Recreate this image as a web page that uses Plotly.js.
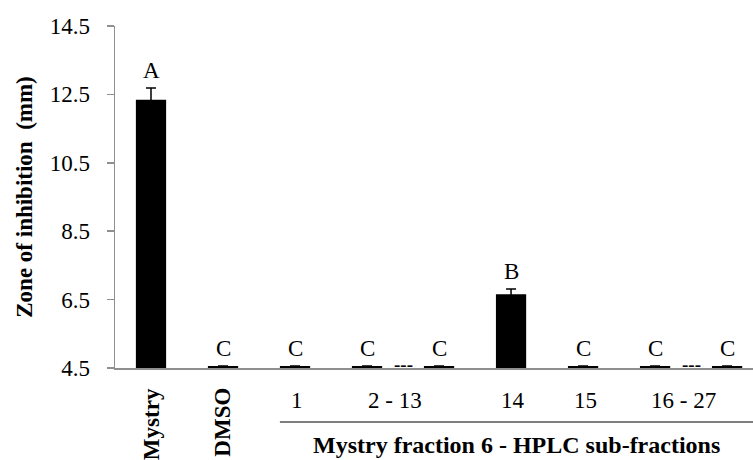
<!DOCTYPE html>
<html>
<head>
<meta charset="utf-8">
<script src="https://cdn.plot.ly/plotly-3.0.1.min.js"></script>
<style>html,body{margin:0;padding:0;background:#fff;}#chart{width:753px;height:460px;}</style>
</head>
<body>
<div id="chart"></div>
<script>
// ---- data ----
const categories = ['Mystry', 'DMSO', '1', '2', '13', '14', '15', '16', '27'];
const values = [12.34, 4.56, 4.56, 4.56, 4.56, 6.66, 4.56, 4.56, 4.56];
const errors = [0.35, 0, 0, 0, 0, 0.15, 0, 0, 0];
const letters = ['A', 'C', 'C', 'C', 'C', 'B', 'C', 'C', 'C'];
const rotatedLabels = ['Mystry', 'DMSO'];          // categories 0 and 1
const groupLabels = ['1', '2 - 13', '14', '15', '16 - 27'];
const groupFrom = ['1', '2', '14', '15', '16'];
const groupTo = ['1', '13', '14', '15', '27'];
const gapPairs = [['2', '13'], ['16', '27']];      // "---" between these
const yTicks = [4.5, 6.5, 8.5, 10.5, 12.5, 14.5];
const yTitle = 'Zone of inhibition\u00a0 (mm)';
const groupTitle = 'Mystry fraction 6 - HPLC sub-fractions';

const FONT = 'Liberation Serif, Times New Roman, Times, serif';
const idx = c => categories.indexOf(c);
const xs = categories.map((c, i) => i);

const annotations = [];
// significance letters
letters.forEach((l, i) => {
  annotations.push({
    x: xs[i], y: values[i] + errors[i], xref: 'x', yref: 'y',
    text: l, showarrow: false, yanchor: 'bottom', yshift: 3,
    font: {family: FONT, size: 23, color: '#000'}
  });
});
// rotated category labels
rotatedLabels.forEach(l => {
  annotations.push({
    x: idx(l), y: -0.053, xref: 'x', yref: 'paper',
    text: '<b>' + l + '</b>', showarrow: false, textangle: -90,
    yanchor: 'top', xanchor: 'center',
    font: {family: FONT, size: 23, color: '#000'}
  });
});
// group labels
groupLabels.forEach((l, k) => {
  const a = idx(groupFrom[k]), b = idx(groupTo[k]);
  annotations.push({
    x: (a + b) / 2, y: -0.094, xref: 'x', yref: 'paper',
    text: l, showarrow: false, yanchor: 'middle', xanchor: 'center',
    xshift: a === b ? 2 : -8,
    font: {family: FONT, size: 23, color: '#000'}
  });
});
// dashes between ranges
gapPairs.forEach(p => {
  annotations.push({
    x: (idx(p[0]) + idx(p[1])) / 2, y: 4.5, xref: 'x', yref: 'y',
    text: '<b>---</b>', showarrow: false, yanchor: 'bottom', yshift: -9,
    font: {family: FONT, size: 19, color: '#000'}
  });
});
// group title
annotations.push({
  x: (idx('1') + 8.36) / 2, y: -0.225, xref: 'x', yref: 'paper',
  text: '<b>' + groupTitle + '</b>', showarrow: false,
  yanchor: 'middle', xanchor: 'center', xshift: -8,
  font: {family: FONT, size: 24, color: '#000'}
});

const trace = {
  type: 'bar', x: xs, y: values,
  marker: {color: '#000', line: {width: 0}},
  width: 0.42,
  error_y: {type: 'data', array: errors, visible: true, color: '#000', thickness: 1.5, width: 5},
  hoverinfo: 'skip'
};

const layout = {
  width: 753, height: 460,
  margin: {l: 115, r: 0, t: 26, b: 92, pad: 0},
  paper_bgcolor: '#fff', plot_bgcolor: '#fff',
  showlegend: false,
  font: {family: FONT, size: 23, color: '#000'},
  xaxis: {
    type: 'linear', range: [-0.5, 8.36], showticklabels: false, ticks: '',
    showgrid: false, zeroline: false, showline: true, linecolor: '#8f8f8f', linewidth: 1.5,
    fixedrange: true
  },
  yaxis: {
    range: [4.5, 14.5], tickvals: yTicks, ticktext: yTicks.map(v => v.toFixed(1)),
    ticks: 'outside', ticklen: 7, tickcolor: '#8f8f8f', tickwidth: 1.5,
    showline: true, linecolor: '#8f8f8f', linewidth: 1.5,
    showgrid: false, zeroline: false, ticklabelstandoff: 12,
    tickfont: {family: FONT, size: 23, color: '#000'},
    title: {text: '<b>' + yTitle + '</b>', font: {family: FONT, size: 23, color: '#000'}, standoff: 10},
    automargin: false, fixedrange: true
  },
  shapes: [{
    type: 'line', xref: 'x', yref: 'paper',
    x0: 1.79, x1: 8.36, y0: -0.158, y1: -0.158,
    line: {color: '#555', width: 1.5}
  }],
  annotations: annotations
};

Plotly.newPlot('chart', [trace], layout, {displayModeBar: false, staticPlot: true});
</script>
</body>
</html>
